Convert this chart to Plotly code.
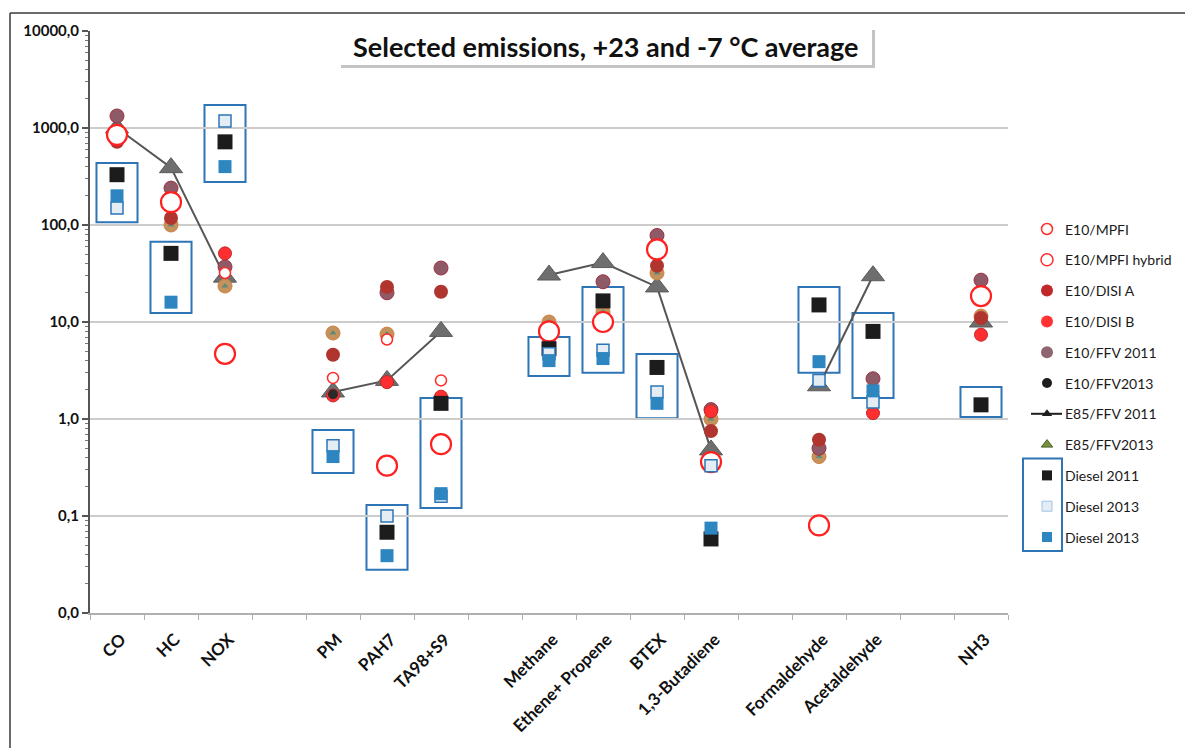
import plotly.graph_objects as go

# Category slots (empty strings are spacer slots between groups)
CATEGORIES = ["CO", "HC", "NOX", "", "PM", "PAH7", "TA98+S9", "", "Methane",
              "Ethene+ Propene", "BTEX", "1,3-Butadiene", "", "Formaldehyde",
              "Acetaldehyde", "", "NH3"]
N = None

E10_MPFI        = [800, N, 32, N, 2.65, 6.6, 2.5, N, N, N, N, N, N, N, 1.9, N, 17]
E10_MPFI_HYBRID = [850, 172, 4.7, N, N, 0.33, 0.55, N, 8.0, 10, 56, 0.36, N, 0.08, N, N, 18.5]
E10_DISI_A      = [720, 118, N, N, 4.6, 23, 20.5, N, N, N, 38, 0.75, N, 0.61, N, N, 11]
E10_DISI_B      = [750, N, 51, N, 1.75, 2.4, 1.7, N, 6.8, N, N, 1.2, N, N, 1.15, N, 7.4]
E10_FFV_2011    = [1330, 240, 37, N, N, 20, 36, N, N, 26, 78, 1.25, N, 0.5, 2.6, N, 27]
E10_FFV2013     = [N, N, N, N, 1.8, N, N, N, 5.8, N, N, N, N, N, N, N, N]
E85_FFV_2011    = [1000, 390, 29, N, 1.9, 2.5, 8.0, N, 30.5, 41, 23, 0.48, N, 2.2, 30, N, 10]
E85_FFV2013     = [N, 100, 23.5, N, 7.7, 7.5, N, N, 10, 12.7, 32, 1.0, N, 0.41, N, N, 11.5]
DIESEL_2011     = [330, 51, 720, N, N, 0.068, 1.45, N, 5.3, 16.5, 3.4, 0.058, N, 15, 8.0, N, 1.4]
DIESEL_2013_A   = [150, N, 1180, N, 0.53, 0.1, 0.16, N, 4.7, 5.1, 1.9, 0.33, N, 2.5, 1.5, N, N]
DIESEL_2013_B   = [200, 16, 400, N, 0.41, 0.039, 0.17, N, 4.0, 4.2, 1.45, 0.075, N, 3.9, 1.95, N, N]

# Value ranges of the boxes framing the diesel results
DIESEL_BOX_LOW  = [107, 12.4, 277, N, 0.277, 0.028, 0.121, N, 2.77, 3.0, 1.02, N, N, 3.0, 1.65, N, 1.05]
DIESEL_BOX_HIGH = [435, 67, 1730, N, 0.77, 0.13, 1.65, N, 7.0, 23, 4.67, N, N, 23, 12.4, N, 2.14]

Y_TICKS = [0.01, 0.1, 1, 10, 100, 1000, 10000]
Y_TICK_TEXT = ["0,0", "0,1", "1,0", "10,0", "100,0", "1000,0", "10000,0"]

TITLE = "Selected emissions, +23 and -7 °C average"

FONT = "Lato"
W, H = 1185, 748
ML, MR, MT, MB = 90, 5, 31, 135
PW, PH = W - ML - MR, H - MT - MB
PLOT_RIGHT = 1008  # pixel x where the chart axes end

def px_x(p):
    return (p - ML) / PW

def px_y(p):
    return (H - MB - p) / PH

xs = list(range(len(CATEGORIES)))

series = [
    dict(name="E10/MPFI", y=E10_MPFI,
         marker=dict(symbol="circle", size=11, color="white", line=dict(color="#ff2a2a", width=1.5)),
         leg=dict(symbol="circle", size=11, color="white", line=dict(color="#ff2a2a", width=1.5))),
    dict(name="E10/MPFI hybrid", y=E10_MPFI_HYBRID,
         marker=dict(symbol="circle", size=20, color="white", line=dict(color="#ff2020", width=2.2)),
         leg=dict(symbol="circle", size=12, color="white", line=dict(color="#ff2a2a", width=1.5))),
    dict(name="E10/DISI A", y=E10_DISI_A,
         marker=dict(symbol="circle", size=14, color="#b0352e", line=dict(width=0)),
         leg=dict(symbol="circle", size=12, color="#c0282a", line=dict(width=0))),
    dict(name="E10/DISI B", y=E10_DISI_B,
         marker=dict(symbol="circle", size=13, color="#ff2f2f", line=dict(color="#c0282a", width=1)),
         leg=dict(symbol="circle", size=12, color="#ff3333", line=dict(width=0))),
    dict(name="E10/FFV 2011", y=E10_FFV_2011,
         marker=dict(symbol="circle", size=14, color="#8e5a68", line=dict(color="#a03040", width=1)),
         leg=dict(symbol="circle", size=12, color="#8e6570", line=dict(width=0))),
    dict(name="E10/FFV2013", y=E10_FFV2013,
         marker=dict(symbol="circle", size=10, color="#2a2a2a", line=dict(width=0)),
         leg=dict(symbol="circle", size=10, color="#1e1e1e", line=dict(width=0))),
    dict(name="E85/FFV 2011", y=E85_FFV_2011, line=True,
         marker=dict(symbol="triangle-up", size=20, color="#6e6e6e", line=dict(color="#5a5a5a", width=1)),
         leg=dict(symbol="triangle-up", size=9, color="#1e1e1e", line=dict(width=0))),
    dict(name="E85/FFV2013", y=E85_FFV2013,
         marker=dict(symbol="circle", size=14, color="#c4925c", line=dict(color="#d08040", width=1)),
         leg=dict(symbol="triangle-up", size=10, color="#76923c", line=dict(color="#4f6228", width=1))),
    dict(name="Diesel 2011", y=DIESEL_2011,
         marker=dict(symbol="square", size=15, color="#1c1c1c", line=dict(width=0)),
         leg=dict(symbol="square", size=10, color="#1c1c1c", line=dict(width=0))),
    dict(name="Diesel 2013", y=DIESEL_2013_A,
         marker=dict(symbol="square", size=12, color="#e4ecf4", line=dict(color="#2e75b6", width=1.5)),
         leg=dict(symbol="square", size=10, color="#e4ecf4", line=dict(color="#9dc3e6", width=1))),
    dict(name="Diesel 2013", y=DIESEL_2013_B,
         marker=dict(symbol="square", size=13, color="#2e86c1", line=dict(width=0)),
         leg=dict(symbol="square", size=10, color="#2e86c1", line=dict(width=0))),
]

fig = go.Figure()

# Draw order: triangles first, then the petrol circles, then the diesel squares
order = [6, 7, 4, 2, 3, 5, 0, 1, 8, 9, 10]
for i in order:
    s = series[i]
    if s.get("line"):
        fig.add_trace(go.Scatter(
            x=xs, y=s["y"], mode="lines+markers", name=s["name"],
            line=dict(color="#555555", width=2), marker=s["marker"],
            connectgaps=False, showlegend=False, hoverinfo="x+y"))
    else:
        fig.add_trace(go.Scatter(
            x=xs, y=s["y"], mode="markers", name=s["name"],
            marker=s["marker"], showlegend=False, hoverinfo="x+y"))
    if s["name"] == "E85/FFV2013":
        fig.add_trace(go.Scatter(
            x=xs, y=s["y"], mode="markers", name=s["name"],
            marker=dict(symbol="triangle-up", size=6, color="#5f8a7a", line=dict(width=0)),
            showlegend=False, hoverinfo="skip"))

# Boxes around the diesel results
shapes = []
for i, (lo, hi) in enumerate(zip(DIESEL_BOX_LOW, DIESEL_BOX_HIGH)):
    if lo is None:
        continue
    shapes.append(dict(type="rect", xref="x", yref="y", x0=i - 0.38, x1=i + 0.38,
                       y0=lo, y1=hi, line=dict(color="#2e75b6", width=2),
                       fillcolor="rgba(0,0,0,0)", layer="below"))

# Outer frame of the chart area (top and left edges)
frame = dict(color="#3a3a3a", width=1.5)
shapes.append(dict(type="line", xref="paper", yref="paper",
                   x0=px_x(10), x1=px_x(W + 20), y0=px_y(13), y1=px_y(13), line=frame))
shapes.append(dict(type="line", xref="paper", yref="paper",
                   x0=px_x(10), x1=px_x(10), y0=px_y(13), y1=px_y(H + 20), line=frame))

# Title box with a soft shadow
shapes.append(dict(type="rect", xref="paper", yref="paper",
                   x0=px_x(341), x1=px_x(875), y0=px_y(30), y1=px_y(68),
                   line=dict(width=0), fillcolor="#c4c4c4"))
shapes.append(dict(type="rect", xref="paper", yref="paper",
                   x0=px_x(338), x1=px_x(872), y0=px_y(27), y1=px_y(65),
                   line=dict(width=0), fillcolor="white"))

annotations = [dict(text=TITLE, xref="paper", yref="paper", x=px_x(605), y=px_y(46),
                    showarrow=False, xanchor="center", yanchor="middle",
                    font=dict(family=FONT, size=27, color="#111111", weight="bold"))]

# Hand-built legend on a helper axis placed to the right of the chart
LEG_MARK_X, LEG_TEXT_X = 1047, 1063
leg_y0, leg_step = 229, 30.8
for k, s in enumerate(series):
    yk = leg_y0 + k * leg_step
    if s.get("line"):
        fig.add_trace(go.Scatter(
            x=[1031, 1047, 1062], y=[yk, yk, yk], xaxis="x2", yaxis="y2",
            mode="lines", line=dict(color="#1e1e1e", width=2),
            showlegend=False, hoverinfo="skip"))
    fig.add_trace(go.Scatter(
        x=[LEG_MARK_X], y=[yk], xaxis="x2", yaxis="y2", mode="markers",
        marker=s["leg"], showlegend=False, hoverinfo="skip"))
    annotations.append(dict(text=s["name"], xref="x2", yref="y2", x=LEG_TEXT_X, y=yk,
                            showarrow=False, xanchor="left", yanchor="middle",
                            font=dict(family=FONT, size=14, color="#1a1a1a")))

shapes.append(dict(type="rect", xref="x2", yref="y2", x0=1023, x1=1062,
                   y0=leg_y0 + 8 * leg_step - 17, y1=leg_y0 + 10 * leg_step + 14,
                   line=dict(color="#2e75b6", width=2), fillcolor="rgba(0,0,0,0)"))

minor_y = [k * 10 ** e for e in range(-2, 4) for k in range(2, 10)]
tick_idx = [i for i, c in enumerate(CATEGORIES) if c]

fig.update_layout(
    width=W, height=H,
    margin=dict(l=ML, r=MR, t=MT, b=MB, pad=0),
    paper_bgcolor="white", plot_bgcolor="white",
    showlegend=False,
    font=dict(family=FONT, color="#111111"),
    shapes=shapes, annotations=annotations,
    xaxis=dict(
        domain=[0, (PLOT_RIGHT - ML) / PW],
        range=[-0.5, len(CATEGORIES) - 0.5],
        tickmode="array", tickvals=tick_idx,
        ticktext=[CATEGORIES[i] for i in tick_idx],
        tickangle=-45, ticks="", ticklen=0,
        ticklabelstandoff=8, ticklabelshift=4,
        tickfont=dict(family=FONT, size=17, color="#111111", weight="bold"),
        showgrid=False, zeroline=False,
        showline=True, linecolor="#b0b0b0", linewidth=2,
        minor=dict(tickmode="array",
                   tickvals=[i - 0.5 for i in range(len(CATEGORIES) + 1)],
                   ticks="outside", ticklen=5, tickcolor="#b0b0b0", tickwidth=1,
                   showgrid=False),
    ),
    yaxis=dict(
        type="log", range=[-2, 4],
        tickmode="array", tickvals=Y_TICKS, ticktext=Y_TICK_TEXT,
        tickfont=dict(family=FONT, size=15, color="#111111", weight="bold"),
        ticks="outside", ticklen=6, tickcolor="#555555", tickwidth=1.5,
        showgrid=True, gridcolor="#cccccc", gridwidth=2,
        showline=True, linecolor="#555555", linewidth=2,
        zeroline=False,
        minor=dict(tickmode="array", tickvals=minor_y, ticks="outside",
                   ticklen=3, tickcolor="#777777", tickwidth=1, showgrid=False),
    ),
    xaxis2=dict(domain=[(PLOT_RIGHT - ML) / PW, 1], range=[PLOT_RIGHT, W - MR],
                visible=False, fixedrange=True),
    yaxis2=dict(domain=[0, 1], range=[H - MB, MT], anchor="x2",
                visible=False, fixedrange=True),
)

fig.write_html("out.html")
